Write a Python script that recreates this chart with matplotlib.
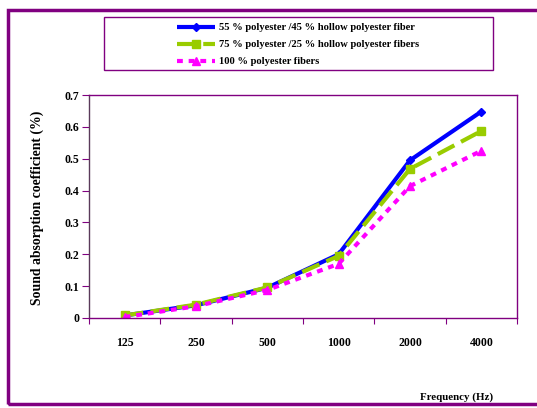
import matplotlib
matplotlib.use("Agg")
import matplotlib.pyplot as plt
from matplotlib.patches import Rectangle

categories = ["125", "250", "500", "1000", "2000", "4000"]
s55 = [0.008, 0.040, 0.095, 0.200, 0.495, 0.648]
s75 = [0.008, 0.042, 0.096, 0.195, 0.468, 0.587]
s100 = [0.003, 0.037, 0.088, 0.170, 0.414, 0.525]
labels = ["55 % polyester /45 % hollow polyester fiber",
          "75 % polyester /25 % hollow polyester fibers",
          "100 % polyester fibers"]

plt.rcParams['font.family'] = ['Liberation Serif', 'DejaVu Serif']
plt.rcParams['font.weight'] = 'bold'
purple = '#800080'

fig = plt.figure(figsize=(5.37, 4.08), dpi=100)
ax = fig.add_axes([89/537, 1-318/408, (517-89)/537, (318-95)/408])

x = list(range(len(categories)))
l1, = ax.plot(x, s55, color='#0000FF', lw=3.0, marker='D', ms=4, solid_capstyle='butt')
l2, = ax.plot(x, s75, color='#99CC00', lw=3.0, marker='s', ms=5.5, dashes=(4.5, 1.8))
l3, = ax.plot(x, s100, color='#FF00FF', lw=3.0, marker='^', ms=6, dashes=(1.4, 1.4))

ax.set_xlim(-0.5, len(categories) - 0.5)
ax.set_ylim(0, 0.7)
ax.set_yticks([0, 0.1, 0.2, 0.3, 0.4, 0.5, 0.6, 0.7])
ax.set_yticklabels(['0', '0.1', '0.2', '0.3', '0.4', '0.5', '0.6', '0.7'])
ax.set_xticks([i - 0.5 for i in range(len(categories) + 1)])
ax.set_xticklabels([])
ax.set_xticks(x, minor=True)
ax.set_xticklabels(categories, minor=True)
ax.tick_params(axis='x', which='minor', length=0, pad=14, labelsize=8.5)
ax.tick_params(axis='x', which='major', length=4, color=purple, direction='out')
ax.tick_params(axis='y', length=5, color=purple, direction='out', labelsize=8.5, pad=2)
for sp in ax.spines.values():
    sp.set_color(purple)
    sp.set_linewidth(1.0)
ax.spines['left'].set_color('#5a3a5a')

fig.text(37/537, 1-208/408, 'Sound absorption coefficient (%)', rotation=90,
         ha='center', va='center', fontsize=9.9, fontweight='bold')
fig.text(457/537, 1-397/408, 'Frequency (Hz)', ha='center', va='center',
         fontsize=7.8, fontweight='bold')

# legend frame
fig.patches.append(Rectangle((104/537, 1-70/408), (493-104)/537, (70-17)/408,
                             transform=fig.transFigure, fill=False,
                             edgecolor=purple, lw=1.0))
leg = fig.legend([l1, l2, l3], labels, loc='upper left',
                 bbox_to_anchor=(177/537, 1-23/408),
                 frameon=False, fontsize=7.6,
                 handlelength=3.6, labelspacing=0.72, borderpad=0.0,
                 handletextpad=0.4, borderaxespad=0)

rect = Rectangle((8/537, 1-404/408), 1.2, (404-10)/408, transform=fig.transFigure,
                 fill=False, edgecolor=purple, lw=2.5, clip_on=False)
fig.patches.append(rect)

fig.savefig('out.png', dpi=100)
